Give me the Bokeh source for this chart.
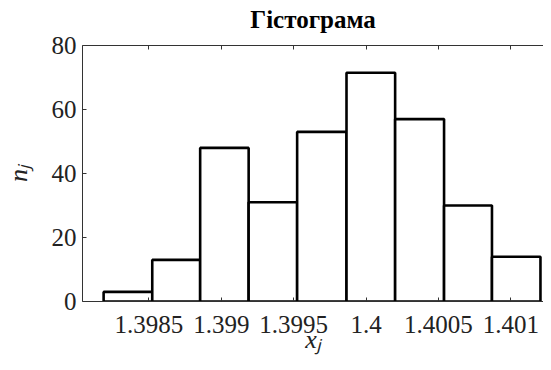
from bokeh.plotting import figure
from bokeh.models import Range1d, FixedTicker, LinearAxis
from bokeh.embed import file_html
from bokeh.resources import INLINE

# ---- data ----
bin_edges = [1.398187, 1.398523, 1.398854, 1.399189, 1.399524,
             1.399865, 1.400201, 1.400539, 1.400870, 1.401205]
counts = [3, 13, 48, 31, 53, 71.5, 57, 30, 14]
x_tick_values = [1.3985, 1.399, 1.3995, 1.4, 1.4005, 1.401]
x_tick_labels = ["1.3985", "1.399", "1.3995", "1.4", "1.4005", "1.401"]
y_tick_values = [0, 20, 40, 60, 80]
title_text = "Гістограма"
x_label = "x\u2C7C"   # x with subscript j
y_label = "n\u2C7C"   # n with subscript j

lefts = bin_edges[:-1]
rights = bin_edges[1:]

FONT = "'Liberation Serif', 'Times New Roman', serif"
TICK_COLOR = "#222222"
AXIS_COLOR = "#333333"

p = figure(width=543, height=362, output_backend="svg", toolbar_location=None,
           x_range=Range1d(1.3980411, 1.401226), y_range=Range1d(0, 80),
           x_axis_location=None, y_axis_location=None, title=None,
           min_border_left=78, min_border_right=0, min_border_top=45,
           min_border_bottom=61)
p.outline_line_color = None
p.background_fill_color = "white"
p.border_fill_color = "white"
p.grid.visible = False


def style_axis(ax, labels=True):
    ax.axis_line_color = AXIS_COLOR
    ax.axis_line_width = 1
    ax.major_tick_in = 4
    ax.major_tick_out = 0
    ax.minor_tick_line_color = None
    ax.major_tick_line_color = AXIS_COLOR
    ax.major_label_text_font = FONT
    ax.major_label_text_font_size = "25px"
    ax.major_label_text_color = TICK_COLOR
    ax.axis_label_text_font = FONT
    ax.axis_label_text_font_size = "26px"
    ax.axis_label_text_font_style = "italic"
    ax.axis_label_text_color = TICK_COLOR
    if not labels:
        ax.major_label_text_font_size = "0px"
        ax.major_label_text_alpha = 0
        ax.major_label_standoff = 0


xb = LinearAxis(ticker=FixedTicker(ticks=x_tick_values))
style_axis(xb)
xb.major_label_overrides = {v: s for v, s in zip(x_tick_values, x_tick_labels)}
xb.major_label_standoff = 14
xb.axis_label = x_label
xb.axis_label_standoff = -11
p.add_layout(xb, "below")

# top box edge with inward ticks; carries the chart title
xt = LinearAxis(ticker=FixedTicker(ticks=x_tick_values))
style_axis(xt, labels=False)
xt.axis_label = title_text
xt.axis_label_text_font_size = "25px"
xt.axis_label_text_font_style = "bold"
xt.axis_label_text_color = "black"
xt.axis_label_standoff = 13
p.add_layout(xt, "above")

yl = LinearAxis(ticker=FixedTicker(ticks=y_tick_values))
style_axis(yl)
yl.major_label_standoff = 6
yl.axis_label = y_label
yl.axis_label_standoff = 16
p.add_layout(yl, "left")

p.quad(left=lefts, right=rights, top=counts, bottom=0,
       fill_color="white", line_color="black", line_width=2.6)

open("out.html", "w").write(file_html(p, INLINE))
